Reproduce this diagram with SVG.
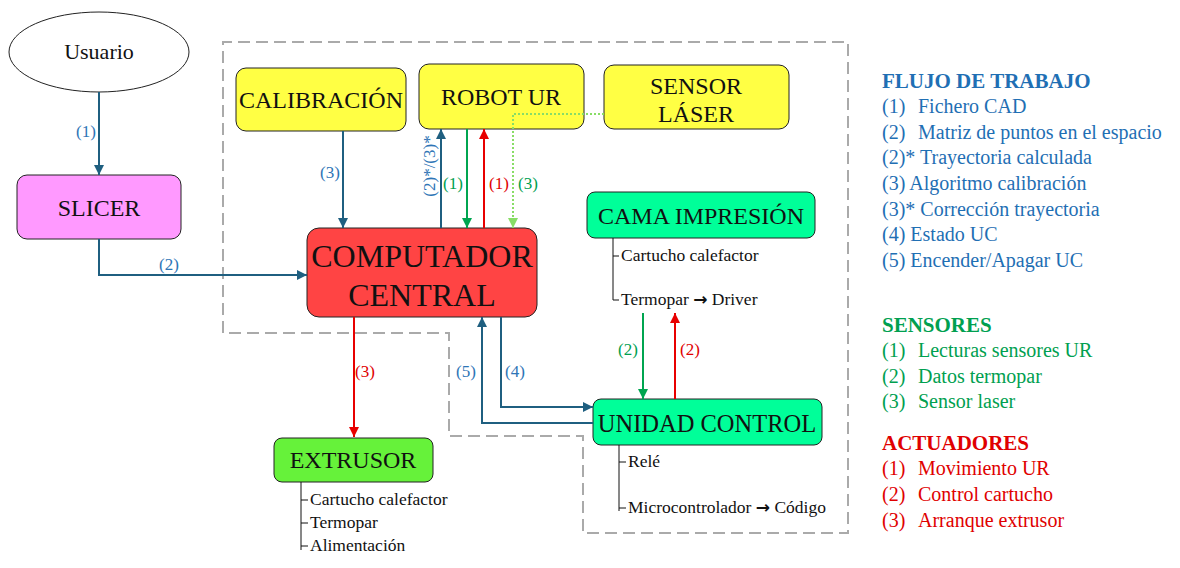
<svg xmlns="http://www.w3.org/2000/svg" width="1180" height="568" viewBox="0 0 1180 568" font-family="'Liberation Serif', 'Times New Roman', serif">
<style>
text{font-family:"Liberation Serif","Times New Roman",serif;fill:#111}
.node{stroke:#222;stroke-width:1}
.nt{font-size:24px;text-anchor:middle}
.sub{font-size:17.5px}
.tree{stroke:#111;stroke-width:1;fill:none}
.c{fill:none;stroke-width:2}
.blue{stroke:#1F5F80}
.green{stroke:#00A550}
.red{stroke:#E80000}
.lg{stroke:#88DD66;stroke-dasharray:2,2}
.lb{font-size:17px;fill:#2E75B6}
.lgr{font-size:17px;fill:#00A050}
.lr{font-size:17px;fill:#E00000}
.leg{font-size:20px}
.lh{font-size:21px;font-weight:bold}
.arw{font-family:"DejaVu Sans",sans-serif;font-weight:bold;font-size:17px}
</style>
<defs>
<marker id="ab" viewBox="0 0 10 10" refX="10" refY="5" markerWidth="10" markerHeight="10" markerUnits="userSpaceOnUse" orient="auto"><path d="M0,0L10,5L0,10z" fill="#1F5F80"/></marker>
<marker id="ag" viewBox="0 0 10 10" refX="10" refY="5" markerWidth="10" markerHeight="10" markerUnits="userSpaceOnUse" orient="auto"><path d="M0,0L10,5L0,10z" fill="#00A550"/></marker>
<marker id="ar" viewBox="0 0 10 10" refX="10" refY="5" markerWidth="10" markerHeight="10" markerUnits="userSpaceOnUse" orient="auto"><path d="M0,0L10,5L0,10z" fill="#E80000"/></marker>
<marker id="al" viewBox="0 0 10 10" refX="10" refY="5" markerWidth="10" markerHeight="10" markerUnits="userSpaceOnUse" orient="auto"><path d="M0,0L10,5L0,10z" fill="#88DD66"/></marker>
</defs>
<rect width="1180" height="568" fill="#fff"/>
<path d="M223,333 V42 H848 V533 H583 V436 H449 V333 Z" fill="none" stroke="#AAAAAA" stroke-width="2" stroke-dasharray="12,6"/>

<g id="usuario">
<ellipse class="node" cx="99" cy="52" rx="90" ry="40" fill="#fff"/>
<text class="nt" x="99" y="59" style="font-size:22px">Usuario</text>
</g>
<g id="slicer">
<rect class="node" x="17" y="175" width="164" height="64" rx="10" fill="#FF99FF"/>
<text class="nt" x="99" y="216">SLICER</text>
</g>
<g id="calibracion">
<rect class="node" x="236" y="68" width="170" height="63" rx="10" fill="#FFFF44"/>
<text class="nt" x="321" y="108">CALIBRACIÓN</text>
</g>
<g id="robot">
<rect class="node" x="419" y="64" width="165" height="65" rx="10" fill="#FFFF44"/>
<text class="nt" x="501" y="105">ROBOT UR</text>
</g>
<g id="sensor">
<rect class="node" x="604" y="65" width="185" height="64" rx="10" fill="#FFFF44"/>
<text class="nt" x="696" y="94">SENSOR</text>
<text class="nt" x="696" y="122">LÁSER</text>
</g>
<g id="computador">
<rect class="node" x="307" y="228" width="230" height="89" rx="12" fill="#FF4444"/>
<text class="nt" x="422" y="267" style="font-size:32px">COMPUTADOR</text>
<text class="nt" x="422" y="306" style="font-size:32px">CENTRAL</text>
</g>
<g id="cama">
<rect class="node" x="587" y="192" width="228" height="46" rx="8" fill="#00FF99"/>
<text class="nt" x="701" y="224">CAMA IMPRESIÓN</text>
<path class="tree" d="M613,238 V300 M613,256 H619 M613,300 H619"/>
<text class="sub" x="621" y="261">Cartucho calefactor</text>
<text class="sub" x="621" y="305">Termopar <tspan class="arw">→</tspan> Driver</text>
</g>
<g id="unidad">
<rect class="node" x="593" y="399" width="229" height="46" rx="8" fill="#00FF99"/>
<text class="nt" x="707" y="432" style="font-size:24.5px">UNIDAD CONTROL</text>
<path class="tree" d="M619,445 V511 M619,462 H626 M619,508 H626"/>
<text class="sub" x="628" y="467">Relé</text>
<text class="sub" x="628" y="513">Microcontrolador <tspan class="arw">→</tspan> Código</text>
</g>
<g id="extrusor">
<rect class="node" x="274" y="438" width="159" height="44" rx="8" fill="#66F23A"/>
<text class="nt" x="353" y="468">EXTRUSOR</text>
<path class="tree" d="M301,482 V550 M301,500 H308 M301,523 H308 M301,546 H308"/>
<text class="sub" x="310" y="505">Cartucho calefactor</text>
<text class="sub" x="310" y="528">Termopar</text>
<text class="sub" x="310" y="551">Alimentación</text>
</g>

<g id="connectors">
<path class="c blue" d="M99,92 V175" marker-end="url(#ab)"/>
<path class="c blue" d="M99,239 V275 H307" marker-end="url(#ab)"/>
<path class="c blue" d="M343,131 V228" marker-end="url(#ab)"/>
<path class="c blue" d="M441,228 V129" marker-end="url(#ab)"/>
<path class="c green" d="M467,129 V228" marker-end="url(#ag)"/>
<path class="c red" d="M484,228 V129" marker-end="url(#ar)"/>
<path class="c lg" d="M604,114 H513 V228" marker-end="url(#al)"/>
<path class="c red" d="M354,317 V437" marker-end="url(#ar)"/>
<path class="c blue" d="M593,423 H482 V317" marker-end="url(#ab)"/>
<path class="c blue" d="M501,317 V407 H593" marker-end="url(#ab)"/>
<path class="c green" d="M643,313 V399" marker-end="url(#ag)"/>
<path class="c red" d="M675,399 V313" marker-end="url(#ar)"/>
<text class="lb" x="86" y="137" text-anchor="middle">(1)</text>
<text class="lb" x="169" y="270" text-anchor="middle">(2)</text>
<text class="lb" x="330" y="178" text-anchor="middle">(3)</text>
<text class="lb" x="0" y="0" text-anchor="middle" transform="translate(435,166) rotate(-90)">(2)*/(3)*</text>
<text class="lgr" x="453" y="189" text-anchor="middle">(1)</text>
<text class="lr" x="499" y="189" text-anchor="middle">(1)</text>
<text class="lgr" x="528" y="189" text-anchor="middle">(3)</text>
<text class="lr" x="365" y="377" text-anchor="middle">(3)</text>
<text class="lb" x="466" y="377" text-anchor="middle">(5)</text>
<text class="lb" x="515" y="377" text-anchor="middle">(4)</text>
<text class="lgr" x="628" y="355" text-anchor="middle">(2)</text>
<text class="lr" x="690" y="355" text-anchor="middle">(2)</text>
</g>

<g id="legend">
<text class="lh" x="882" y="88" style="fill:#1F6FB4">FLUJO DE TRABAJO</text>
<text class="leg" x="882" y="113" style="fill:#1F6FB4">(1)</text><text class="leg" x="918" y="113" style="fill:#1F6FB4">Fichero CAD</text>
<text class="leg" x="882" y="139" style="fill:#1F6FB4">(2)</text><text class="leg" x="918" y="139" style="fill:#1F6FB4">Matriz de puntos en el espacio</text>
<text class="leg" x="882" y="164" style="fill:#1F6FB4">(2)* Trayectoria calculada</text>
<text class="leg" x="882" y="190" style="fill:#1F6FB4">(3) Algoritmo calibración</text>
<text class="leg" x="882" y="216" style="fill:#1F6FB4">(3)* Corrección trayectoria</text>
<text class="leg" x="882" y="241" style="fill:#1F6FB4">(4) Estado UC</text>
<text class="leg" x="882" y="267" style="fill:#1F6FB4">(5) Encender/Apagar UC</text>
<text class="lh" x="882" y="332" style="fill:#00A050">SENSORES</text>
<text class="leg" x="882" y="357" style="fill:#00A050">(1)</text><text class="leg" x="918" y="357" style="fill:#00A050">Lecturas sensores UR</text>
<text class="leg" x="882" y="383" style="fill:#00A050">(2)</text><text class="leg" x="918" y="383" style="fill:#00A050">Datos termopar</text>
<text class="leg" x="882" y="408" style="fill:#00A050">(3)</text><text class="leg" x="918" y="408" style="fill:#00A050">Sensor laser</text>
<text class="lh" x="882" y="450" style="fill:#E00000">ACTUADORES</text>
<text class="leg" x="882" y="475" style="fill:#E00000">(1)</text><text class="leg" x="918" y="475" style="fill:#E00000">Movimiento UR</text>
<text class="leg" x="882" y="501" style="fill:#E00000">(2)</text><text class="leg" x="918" y="501" style="fill:#E00000">Control cartucho</text>
<text class="leg" x="882" y="527" style="fill:#E00000">(3)</text><text class="leg" x="918" y="527" style="fill:#E00000">Arranque extrusor</text>
</g>
</svg>
